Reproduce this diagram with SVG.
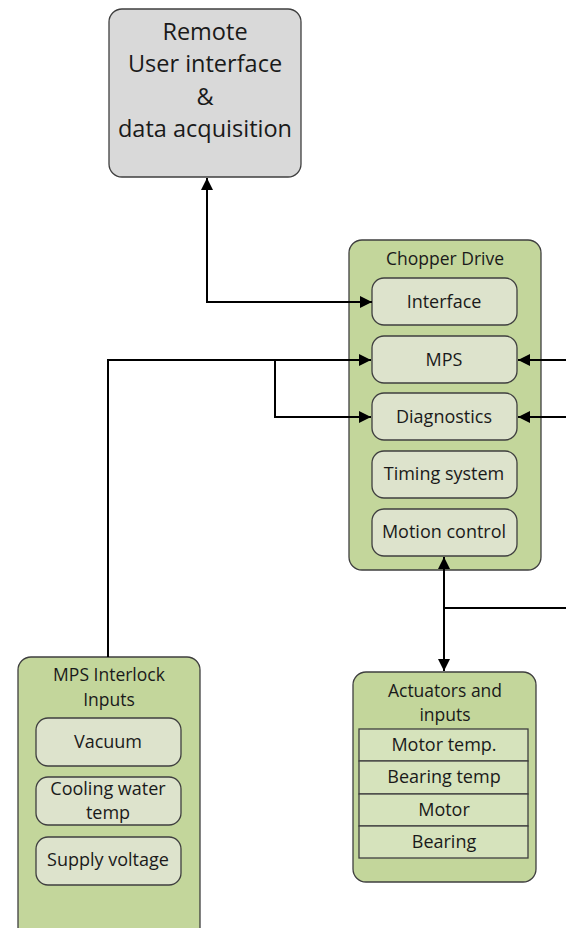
<svg xmlns="http://www.w3.org/2000/svg" width="566" height="928" viewBox="0 0 566 928">
  <defs>
    <marker id="arrow" viewBox="0 0 10 10" refX="10" refY="5" markerWidth="6.5" markerHeight="6" markerUnits="strokeWidth" orient="auto-start-reverse">
      <path d="M0,0 L10,5 L0,10 z" fill="#000"/>
    </marker>
    <style>
      text { font-family: "Open Sans", "Liberation Sans", Arial, sans-serif; fill: #1a1a1a; text-anchor: middle; }
      .outer { fill: #c3d69b; stroke: #3f3f3f; stroke-width: 1.3; }
      .remote { fill: #d9d9d9; stroke: #3f3f3f; stroke-width: 1.3; }
      .inner { fill: #dde3cc; stroke: #3f3f3f; stroke-width: 1.3; }
      .row { fill: #d6e3bc; stroke: #3f3f3f; stroke-width: 1.3; }
      .big { font-size: 23.5px; }
      .lbl { font-size: 18px; }
      .ttl { font-size: 17.5px; }
      .wire { fill: none; stroke: #000; stroke-width: 2; }
    </style>
  </defs>

  <g id="remote-ui">
    <rect class="remote" x="109" y="9" width="192" height="168" rx="13"/>
    <text class="big" x="205" y="40">Remote</text>
    <text class="big" x="205" y="72">User interface</text>
    <text class="big" x="205" y="105">&amp;</text>
    <text class="big" x="205" y="137">data acquisition</text>
  </g>

  <g id="chopper-drive">
    <rect class="outer" x="349" y="240" width="192" height="330" rx="13"/>
    <text class="ttl" x="445" y="265">Chopper Drive</text>
    <g id="cd-interface">
      <rect class="inner" x="372" y="278" width="145" height="47" rx="12"/>
      <text class="lbl" x="444" y="308">Interface</text>
    </g>
    <g id="cd-mps">
      <rect class="inner" x="372" y="336" width="145" height="47" rx="12"/>
      <text class="lbl" x="444" y="366">MPS</text>
    </g>
    <g id="cd-diagnostics">
      <rect class="inner" x="372" y="393" width="145" height="47" rx="12"/>
      <text class="lbl" x="444" y="423">Diagnostics</text>
    </g>
    <g id="cd-timing">
      <rect class="inner" x="372" y="451" width="145" height="47" rx="12"/>
      <text class="lbl" x="444" y="480">Timing system</text>
    </g>
    <g id="cd-motion">
      <rect class="inner" x="372" y="509" width="145" height="47" rx="12"/>
      <text class="lbl" x="444" y="538">Motion control</text>
    </g>
  </g>

  <g id="mps-interlock">
    <rect class="outer" x="18" y="657" width="182" height="290" rx="13"/>
    <text class="ttl" x="109" y="681">MPS Interlock</text>
    <text class="ttl" x="109" y="706">Inputs</text>
    <g id="mi-vacuum">
      <rect class="inner" x="36" y="718" width="145" height="48" rx="12"/>
      <text class="lbl" x="108" y="748">Vacuum</text>
    </g>
    <g id="mi-cooling">
      <rect class="inner" x="36" y="777" width="145" height="48" rx="12"/>
      <text class="lbl" x="108" y="795">Cooling water</text>
      <text class="lbl" x="108" y="819">temp</text>
    </g>
    <g id="mi-supply">
      <rect class="inner" x="36" y="837" width="145" height="48" rx="12"/>
      <text class="lbl" x="108" y="866">Supply voltage</text>
    </g>
  </g>

  <g id="actuators">
    <rect class="outer" x="353" y="672" width="183" height="210" rx="13"/>
    <text class="ttl" x="445" y="697">Actuators and</text>
    <text class="ttl" x="445" y="721">inputs</text>
    <rect class="row" x="359" y="729" width="169" height="32"/>
    <text class="lbl" x="444" y="751">Motor temp.</text>
    <rect class="row" x="359" y="761" width="169" height="33"/>
    <text class="lbl" x="444" y="783">Bearing temp</text>
    <rect class="row" x="359" y="794" width="169" height="32"/>
    <text class="lbl" x="444" y="816">Motor</text>
    <rect class="row" x="359" y="826" width="169" height="32"/>
    <text class="lbl" x="444" y="848">Bearing</text>
  </g>

  <g id="connectors">
    <!-- remote UI <-> interface -->
    <path class="wire" d="M372,302 H207 V178" marker-start="url(#arrow)" marker-end="url(#arrow)"/>
    <!-- interlock inputs to MPS and diagnostics -->
    <path class="wire" d="M108,657 V360 H371" marker-end="url(#arrow)"/>
    <path class="wire" d="M275,360 V417 H371" marker-end="url(#arrow)"/>
    <!-- inputs entering from the right -->
    <path class="wire" d="M566,360 H518" marker-end="url(#arrow)"/>
    <path class="wire" d="M566,417 H518" marker-end="url(#arrow)"/>
    <!-- motion control <-> actuators -->
    <path class="wire" d="M444,557 V671" marker-start="url(#arrow)" marker-end="url(#arrow)"/>
    <path class="wire" d="M444,608 H566"/>
  </g>
</svg>
